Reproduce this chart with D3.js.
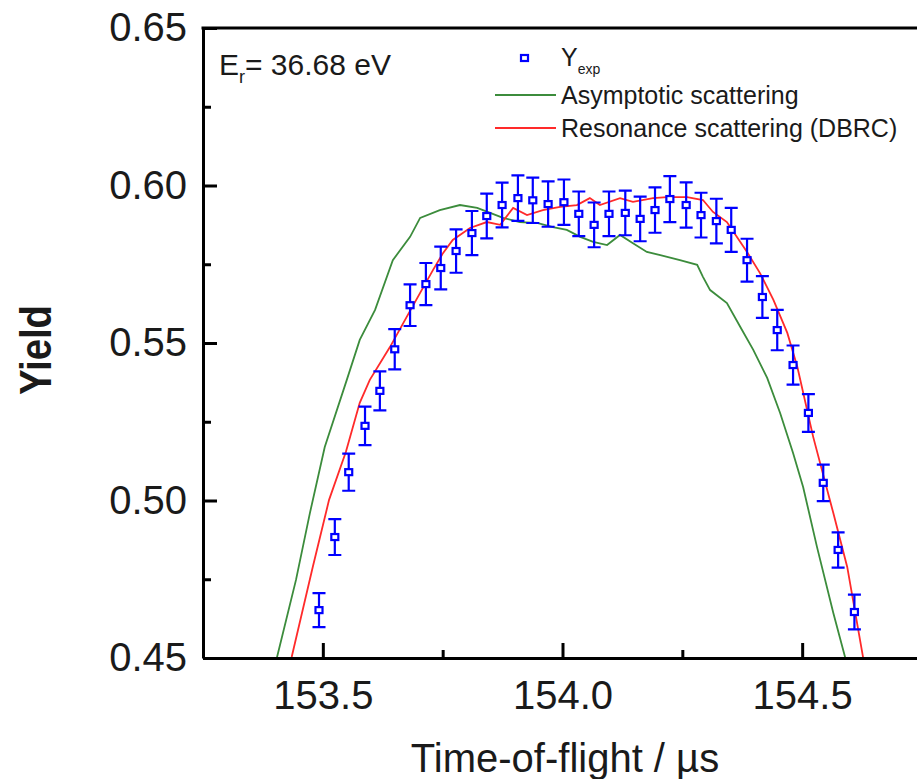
<!DOCTYPE html>
<html>
<head>
<meta charset="utf-8">
<script src="https://cdn.jsdelivr.net/npm/d3@7"></script>
<style>
  body { margin: 0; background: #fff; }
  svg { display: block; font-family: "Liberation Sans", Arial, sans-serif; }
</style>
</head>
<body>
<div id="chart"></div>
<script>
// measured yield, time of flight in microseconds
var expTime = [153.492, 153.525, 153.554, 153.588, 153.619, 153.650, 153.682, 153.715, 153.746,
  153.778, 153.811, 153.842, 153.874, 153.907, 153.938, 153.970, 154.003, 154.034, 154.066,
  154.097, 154.131, 154.162, 154.193, 154.224, 154.258, 154.289, 154.321, 154.352, 154.385,
  154.417, 154.448, 154.481, 154.513, 154.544, 154.575, 154.609];
var expYield = [0.4652, 0.4884, 0.5090, 0.5237, 0.5348, 0.5480, 0.5620, 0.5687, 0.5738,
  0.5792, 0.5849, 0.5903, 0.5938, 0.5960, 0.5953, 0.5941, 0.5947, 0.5910, 0.5875,
  0.5910, 0.5913, 0.5894, 0.5922, 0.5957, 0.5938, 0.5906, 0.5887, 0.5859, 0.5763,
  0.5646, 0.5541, 0.5430, 0.5278, 0.5056, 0.4843, 0.4646];
var expErr = [0.0054, 0.0057, 0.0059, 0.0061, 0.0062, 0.0064, 0.0066, 0.0067, 0.0068,
  0.0069, 0.0070, 0.0071, 0.0071, 0.0072, 0.0072, 0.0072, 0.0072, 0.0071, 0.0071,
  0.0071, 0.0071, 0.0071, 0.0072, 0.0073, 0.0072, 0.0071, 0.0071, 0.0070, 0.0068,
  0.0066, 0.0064, 0.0062, 0.0060, 0.0058, 0.0056, 0.0055];

// asymptotic scattering (green)
var asymTime = [153.404, 153.444, 153.473, 153.504, 153.550, 153.577, 153.609, 153.646, 153.682,
  153.703, 153.744, 153.786, 153.822, 153.849, 153.876, 153.911, 153.947, 153.980, 154.009,
  154.037, 154.064, 154.093, 154.120, 154.147, 154.176, 154.204, 154.245, 154.281, 154.293,
  154.308, 154.343, 154.371, 154.398, 154.427, 154.454, 154.481, 154.502, 154.531, 154.565,
  154.590];
var asymYield = [0.4500, 0.4748, 0.4960, 0.5170, 0.5383, 0.5510, 0.5605, 0.5763, 0.5837,
  0.5897, 0.5922, 0.5938, 0.5929, 0.5913, 0.5897, 0.5884, 0.5881, 0.5868, 0.5859,
  0.5837, 0.5821, 0.5811, 0.5843, 0.5817, 0.5789, 0.5779, 0.5763, 0.5748, 0.5710,
  0.5668, 0.5627, 0.5551, 0.5478, 0.5389, 0.5278, 0.5151, 0.5043, 0.4852, 0.4643,
  0.4500];

// resonance scattering, DBRC (red)
var resTime = [153.435, 153.479, 153.513, 153.548, 153.577, 153.598, 153.640, 153.675, 153.703,
  153.730, 153.751, 153.771, 153.807, 153.842, 153.870, 153.897, 153.926, 153.959, 153.995,
  154.030, 154.057, 154.078, 154.120, 154.147, 154.189, 154.218, 154.260, 154.293, 154.314,
  154.343, 154.385, 154.412, 154.440, 154.469, 154.490, 154.523, 154.565, 154.594, 154.627];
var resYield = [0.4503, 0.4789, 0.5002, 0.5154, 0.5310, 0.5383, 0.5487, 0.5583, 0.5659,
  0.5732, 0.5786, 0.5827, 0.5865, 0.5884, 0.5875, 0.5929, 0.5906, 0.5922, 0.5932,
  0.5938, 0.5960, 0.5938, 0.5960, 0.5948, 0.5960, 0.5963, 0.5963, 0.5954, 0.5916,
  0.5884, 0.5789, 0.5722, 0.5637, 0.5532, 0.5424, 0.5202, 0.4960, 0.4789, 0.4503];

var xMajor = [153.5, 154.0, 154.5];
var xMinor = [153.75, 154.25, 154.75];
var yMajor = [0.45, 0.50, 0.55, 0.60, 0.65];
var yMinor = [0.475, 0.525, 0.575, 0.625];

var svgWidth = 917, svgHeight = 779;
var green = "#3c8c3c", red = "#ff2a2a", blue = "#0000ff", ink = "#1a1a1a";

var svg = d3.select("#chart").append("svg")
    .attr("width", svgWidth)
    .attr("height", svgHeight);

var x = d3.scaleLinear().domain([153.25, 154.75]).range([203, 922]);
var y = d3.scaleLinear().domain([0.45, 0.65]).range([658, 28]);

var line = d3.line()
    .x(function (d) { return x(d[0]); })
    .y(function (d) { return y(d[1]); });

svg.append("defs").append("clipPath").attr("id", "plot")
  .append("rect").attr("x", 203).attr("y", 28).attr("width", 719).attr("height", 630);

var plot = svg.append("g").attr("clip-path", "url(#plot)");

plot.append("path")
    .datum(d3.zip(asymTime, asymYield))
    .attr("d", line)
    .attr("fill", "none")
    .attr("stroke", green)
    .attr("stroke-width", 1.8);

plot.append("path")
    .datum(d3.zip(resTime, resYield))
    .attr("d", line)
    .attr("fill", "none")
    .attr("stroke", red)
    .attr("stroke-width", 1.8);

// error bars + square markers
var pts = d3.range(expTime.length).map(function (i) {
  return { t: expTime[i], v: expYield[i], e: expErr[i] };
});
var eb = plot.append("g").attr("stroke", blue).attr("stroke-width", 2.2).attr("fill", "none");
eb.selectAll("path.err")
    .data(pts)
    .enter().append("path")
    .attr("class", "err")
    .attr("d", function (d) {
      var cx = x(d.t), y0 = y(d.v - d.e), y1 = y(d.v + d.e);
      return "M" + (cx - 6.5) + "," + y1 + "H" + (cx + 6.5) +
             "M" + cx + "," + y1 + "V" + y0 +
             "M" + (cx - 6.5) + "," + y0 + "H" + (cx + 6.5);
    });
eb.selectAll("rect")
    .data(pts)
    .enter().append("rect")
    .attr("x", function (d) { return x(d.t) - 3.5; })
    .attr("y", function (d) { return y(d.v) - 3; })
    .attr("width", 7)
    .attr("height", 6)
    .attr("fill", "#fff");

// axes
function styleAxis(g) {
  g.selectAll(".domain").attr("stroke", "#000").attr("stroke-width", 3);
  g.selectAll(".tick line").attr("stroke", "#000").attr("stroke-width", 3);
  g.selectAll(".tick text").attr("fill", ink).attr("font-size", 40)
    .attr("font-family", "'Liberation Sans', Arial, sans-serif");
}

svg.append("g")
    .attr("transform", "translate(0,658)")
    .call(d3.axisBottom(x).tickValues(xMinor).tickSize(-8).tickFormat(""))
    .call(function (g) { g.select(".domain").remove(); })
    .call(styleAxis);
svg.append("g")
    .attr("transform", "translate(0,658)")
    .call(d3.axisBottom(x).tickValues(xMajor).tickSizeInner(-15).tickSizeOuter(0)
      .tickPadding(23).tickFormat(d3.format(".1f")))
    .call(styleAxis);

svg.append("g")
    .attr("transform", "translate(203,0)")
    .call(d3.axisLeft(y).tickValues(yMinor).tickSize(-8).tickFormat(""))
    .call(function (g) { g.select(".domain").remove(); })
    .call(styleAxis);
svg.append("g")
    .attr("transform", "translate(203,0)")
    .call(d3.axisLeft(y).tickValues(yMajor).tickSizeInner(-14).tickSizeOuter(0)
      .tickPadding(16).tickFormat(d3.format(".2f")))
    .call(styleAxis);

// top frame line
svg.append("line")
    .attr("x1", 201.5).attr("x2", 922)
    .attr("y1", 28).attr("y2", 28)
    .attr("stroke", "#000").attr("stroke-width", 3);

// axis titles
svg.append("text")
    .attr("x", 565).attr("y", 772)
    .attr("text-anchor", "middle")
    .attr("font-size", 40).attr("fill", ink)
    .text("Time-of-flight / \u00b5s");

svg.append("text")
    .attr("transform", "translate(51,350) rotate(-90)")
    .attr("text-anchor", "middle")
    .attr("font-size", 45).attr("font-weight", "bold").attr("fill", ink)
    .attr("textLength", 90).attr("lengthAdjust", "spacingAndGlyphs")
    .text("Yield");

// resonance energy label
var er = svg.append("text")
    .attr("x", 219).attr("y", 75)
    .attr("font-size", 30).attr("fill", ink);
er.append("tspan").text("E");
er.append("tspan").attr("font-size", 18).attr("dy", 8).text("r");
er.append("tspan").attr("dy", -8).text("= 36.68 eV");

// legend
var leg = svg.append("g");
leg.append("rect")
    .attr("x", 521).attr("y", 55).attr("width", 7).attr("height", 6)
    .attr("fill", "#fff").attr("stroke", blue).attr("stroke-width", 2.2);
var ly = leg.append("text").attr("x", 561).attr("y", 66).attr("font-size", 25).attr("fill", ink);
ly.append("tspan").text("Y");
ly.append("tspan").attr("font-size", 14).attr("dy", 8).text("exp");

var legendRows = [
  { color: green, label: "Asymptotic scattering", y: 95 },
  { color: red, label: "Resonance scattering (DBRC)", y: 128 }
];
legendRows.forEach(function (r) {
  leg.append("line")
      .attr("x1", 495).attr("x2", 556)
      .attr("y1", r.y).attr("y2", r.y)
      .attr("stroke", r.color).attr("stroke-width", 2);
  leg.append("text")
      .attr("x", 561).attr("y", r.y + 9)
      .attr("font-size", 25).attr("fill", ink)
      .text(r.label);
});
</script>
</body>
</html>
